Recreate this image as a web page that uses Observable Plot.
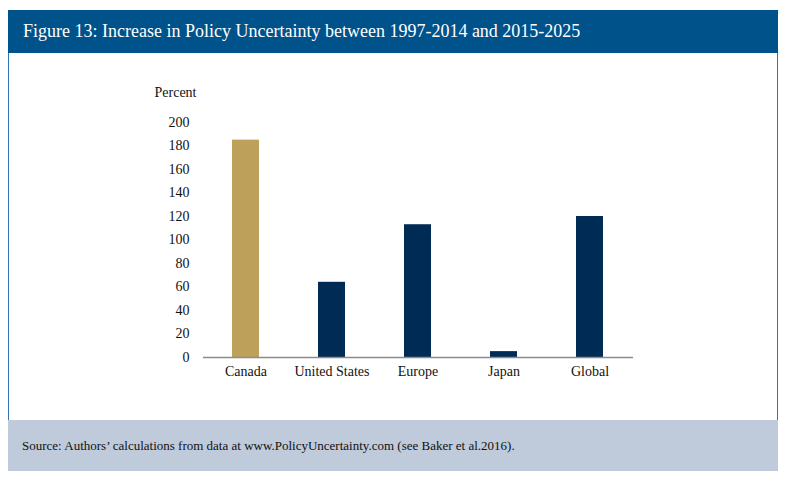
<!DOCTYPE html>
<html>
<head>
<meta charset="utf-8">
<script src="https://cdn.jsdelivr.net/npm/d3@7"></script>
<script src="https://cdn.jsdelivr.net/npm/@observablehq/plot@0.6"></script>
<style>
  html, body { margin: 0; padding: 0; background: #fff; }
  body { width: 800px; height: 489px; position: relative; overflow: hidden; font-family: "Liberation Serif", "DejaVu Serif", serif; }
  #frame { position: absolute; left: 8px; top: 10px; width: 770px; height: 461px; }
  #title { position: absolute; left: 0; top: 0; width: 770px; height: 43px; background: #00528a; color: #fff; font-size: 18px; line-height: 43px; box-sizing: border-box; padding-left: 15px; }
  #body { position: absolute; left: 0; top: 43px; width: 770px; height: 367px; box-sizing: border-box; border-left: 1.5px solid #2e75b6; border-right: 1.5px solid #2e75b6; background: #fff; }
  #source { position: absolute; left: 0; top: 410px; width: 770px; height: 51px; background: #bfcadb; color: #111; font-size: 13px; line-height: 51px; box-sizing: border-box; padding-left: 14px; }
  #chart { position: absolute; left: 0; top: 53px; }
  #chart svg, #chart svg text { font-family: "Liberation Serif", "DejaVu Serif", serif !important; }
</style>
</head>
<body>
<div id="frame">
  <div id="title">Figure 13: Increase in Policy Uncertainty between 1997-2014 and 2015-2025</div>
  <div id="body"></div>
  <div id="source">Source: Authors’ calculations from data at www.PolicyUncertainty.com (see Baker et al.2016).</div>
</div>
<div id="chart"></div>
<script>
const regions = ["Canada", "United States", "Europe", "Japan", "Global"];
const increase = [185, 64, 113, 5, 120];
const yTicks = [0, 20, 40, 60, 80, 100, 120, 140, 160, 180, 200];
const yLabel = "Percent";

const data = regions.map((r, i) => ({region: r, value: increase[i]}));

const chart = Plot.plot({
  width: 780,
  height: 367,
  marginLeft: 203,
  marginRight: 147,
  marginTop: 69,
  marginBottom: 63,
  style: {fontFamily: "'Liberation Serif', 'DejaVu Serif', serif", fontSize: "14px", color: "#111", background: "transparent"},
  x: {domain: regions, paddingInner: 0.686, paddingOuter: 0.343, label: null, tickSize: 0, tickPadding: 9},
  y: {domain: [0, 200], ticks: yTicks, label: null, tickSize: 0, tickPadding: 14},
  marks: [
    Plot.barY(data, {x: "region", y: "value", fill: d => d.region === "Canada" ? "#bda15b" : "#002b55"}),
    Plot.ruleY([0], {stroke: "#8c8c8c", strokeWidth: 1.5}),
    Plot.text([yLabel], {frameAnchor: "top-left", dx: -28, dy: -35, text: d => d, fontSize: 14, textAnchor: "middle", fill: "#111"})
  ]
});
document.getElementById("chart").appendChild(chart);
</script>
</body>
</html>
